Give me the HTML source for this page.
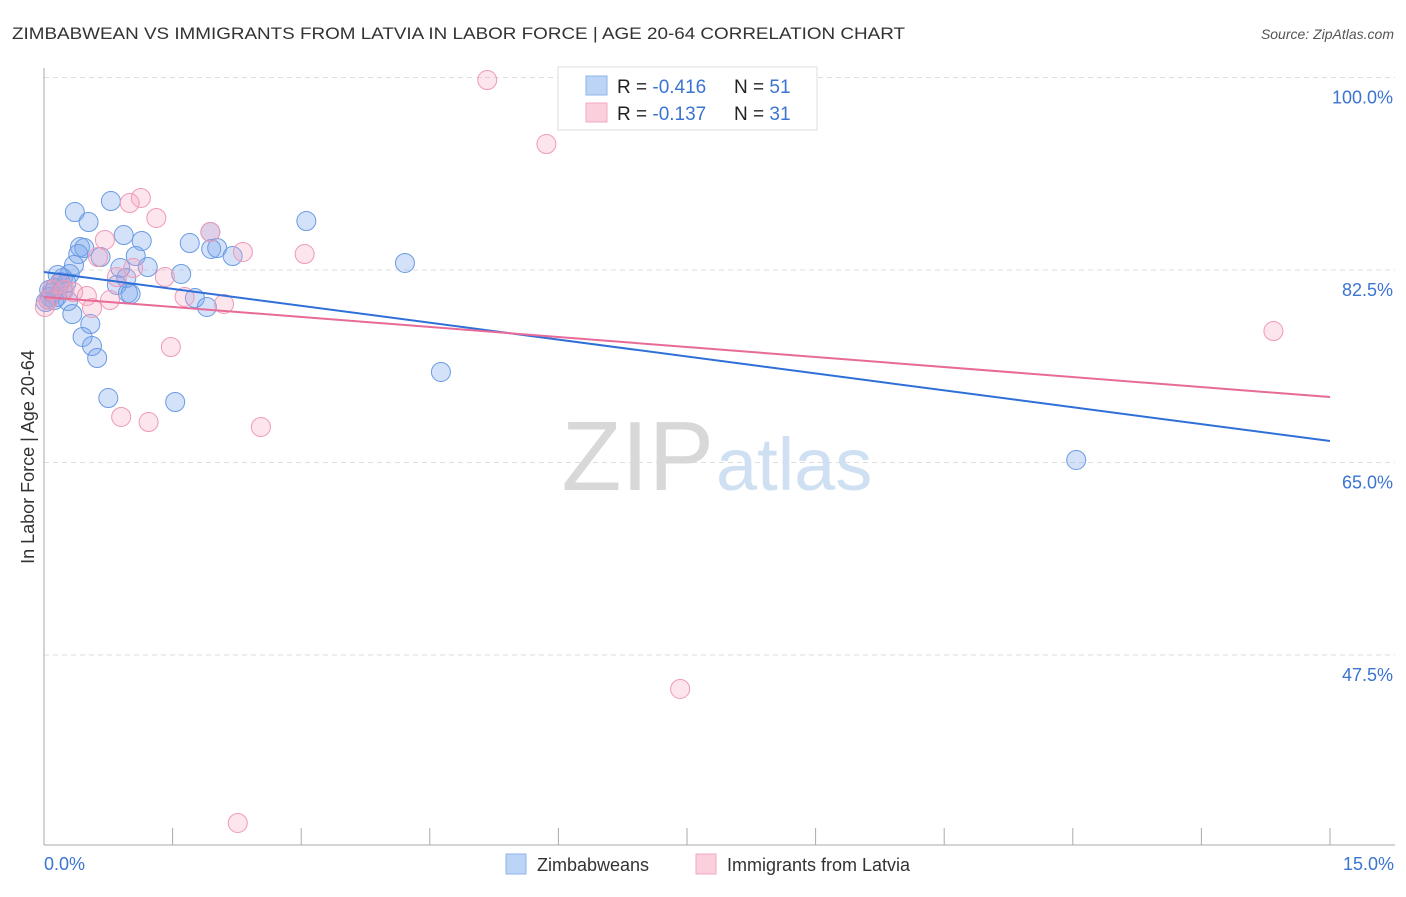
<!DOCTYPE html>
<html><head><meta charset="utf-8"><style>
body{margin:0;background:#fff;font-family:"Liberation Sans",sans-serif}
svg text{font-family:"Liberation Sans",sans-serif}
</style></head><body>
<svg id="chart" width="1406" height="892" viewBox="0 0 1406 892">
<text x="12" y="39" font-size="17" fill="#333" textLength="893" lengthAdjust="spacingAndGlyphs">ZIMBABWEAN VS IMMIGRANTS FROM LATVIA IN LABOR FORCE | AGE 20-64 CORRELATION CHART</text>
<text x="1394" y="39" font-size="14" fill="#555" font-style="italic" text-anchor="end">Source: ZipAtlas.com</text>
<text x="0" y="0" font-size="18" fill="#333" text-anchor="middle" transform="translate(34,457) rotate(-90)">In Labor Force | Age 20-64</text>
<g id="grid"></g>
<g id="axes"></g>
<text x="714" y="490" font-size="98" fill="#d8d8d8" text-anchor="end" font-family="Liberation Serif">ZIP</text>
<text x="716" y="490" font-size="74" fill="#cfe0f3">atlas</text>
<g id="pts"></g>
<g id="trends"></g>
<g>
<rect x="558" y="67" width="259" height="63" fill="#fff" stroke="#ddd"/>
<rect x="586" y="76" width="21" height="19" fill="#bcd4f5" stroke="#8fb4ea"/>
<rect x="586" y="103" width="21" height="19" fill="#fbcfdc" stroke="#f3a9c0"/>
<text x="617" y="93" font-size="19" fill="#222">R = <tspan fill="#3b74d1">-0.416</tspan></text>
<text x="734" y="93" font-size="19" fill="#222">N = <tspan fill="#3b74d1">51</tspan></text>
<text x="617" y="120" font-size="19" fill="#222">R =  <tspan fill="#3b74d1">-0.137</tspan></text>
<text x="734" y="120" font-size="19" fill="#222">N = <tspan fill="#3b74d1">31</tspan></text>
</g>
<g>
<rect x="506" y="854" width="20" height="20" fill="#bcd4f5" stroke="#8fb4ea"/>
<text x="537" y="871" font-size="18" fill="#333">Zimbabweans</text>
<rect x="696" y="854" width="20" height="20" fill="#fbcfdc" stroke="#f3a9c0"/>
<text x="727" y="871" font-size="18" fill="#333">Immigrants from Latvia</text>
</g>
</svg>
<script>
const yTicks=[100,82.5,65,47.5];
const yTickLabels=["100.0%","82.5%","65.0%","47.5%"];
const xTickLabels=["0.0%","15.0%"];
const blueX=[0.36,0.52,0.78,0.93,1.14,0.42,0.47,0.40,0.66,1.07,0.35,0.30,0.22,0.19,0.13,0.09,0.07,0.12,0.28,0.33,0.54,0.45,0.56,0.62,0.75,1.53,0.89,0.96,1.21,0.85,0.98,1.01,1.60,1.70,1.94,1.95,2.02,2.20,1.76,1.90,3.06,4.21,4.63,12.04,0.22,0.15,0.05,0.02,0.26,0.16,0.06];
const blueY=[87.77,86.86,88.77,85.68,85.14,84.59,84.5,83.95,83.68,83.77,82.95,82.14,81.77,81.41,80.86,80.41,80.05,79.77,79.68,78.5,77.59,76.41,75.59,74.5,70.86,70.5,82.68,81.77,82.77,81.14,80.41,80.32,82.14,84.95,85.95,84.41,84.5,83.77,79.95,79.14,86.95,83.14,73.23,65.23,80.68,80.05,79.77,79.59,81.32,82.05,80.68];
const pinkX=[5.17,5.86,1.13,1.00,1.31,0.71,1.94,2.32,3.04,0.63,1.04,0.85,1.41,0.34,0.50,0.77,0.56,1.64,2.10,1.48,0.90,1.22,2.53,7.42,2.26,14.34,0.05,0.09,0.19,0.01,0.24];
const pinkY=[99.77,93.95,89.05,88.59,87.23,85.23,85.95,84.14,83.95,83.68,82.68,81.86,81.86,80.5,80.14,79.77,79.05,80.05,79.41,75.5,69.14,68.68,68.23,44.41,32.23,76.95,79.77,80.68,81.27,79.14,80.68];
const blueTrend=[82.32,66.95];
const pinkTrend=[80.05,70.95];
const NS="http://www.w3.org/2000/svg";
const X=v=>44+v/15*1286;
const Y=v=>270+(82.5-v)*11;
function mk(t,a,p){const e=document.createElementNS(NS,t);for(const k in a)e.setAttribute(k,a[k]);p.appendChild(e);return e;}
const grid=document.getElementById('grid');
yTicks.forEach((v,i)=>{
  const l=mk('line',{x1:44,x2:1395,y1:Y(v),y2:Y(v),stroke:'#ddd','stroke-dasharray':'5,4'},grid);
  
  
  const t=mk('text',{x:1393,y:Y(v)+26,'font-size':18,fill:'#3b74d1','text-anchor':'end'},grid);
  t.textContent=yTickLabels[i];
  
  
});
const ax=document.getElementById('axes');
mk('line',{x1:44,x2:44,y1:68,y2:845,stroke:'#aaa'},ax);
mk('line',{x1:44,x2:1395,y1:845,y2:845,stroke:'#aaa'},ax);
for(let i=1;i<=10;i++){const l=mk('line',{x1:X(i*1.5),x2:X(i*1.5),y1:828,y2:845,stroke:'#aaa'},ax);
  
  }
[[0,'start',44],[15,'end',1394]].forEach((d,i)=>{const t=mk('text',{x:d[2],y:870,'font-size':18,fill:'#3b74d1','text-anchor':d[1]},ax);t.textContent=xTickLabels[i];
  
  });
const pts=document.getElementById('pts');
function draw(xs,ys,fill,stroke,name){xs.forEach((x,i)=>{const c=mk('circle',{cx:X(x),cy:Y(ys[i]),r:9.5,fill:fill,stroke:stroke,'stroke-width':1},pts);
  
  });}
draw(blueX,blueY,'rgba(120,165,235,0.32)','#6a9be3','point-zimbabwean');
draw(pinkX,pinkY,'rgba(245,160,190,0.28)','#ef9ab6','point-latvia');
const tr=document.getElementById('trends');
const b=mk('line',{x1:X(0),x2:X(15),y1:Y(blueTrend[0]),y2:Y(blueTrend[1]),stroke:'#2f6fd8','stroke-width':2},tr);


const p=mk('line',{x1:X(0),x2:X(15),y1:Y(pinkTrend[0]),y2:Y(pinkTrend[1]),stroke:'#e86a97','stroke-width':2},tr);


</script>
</body></html>
